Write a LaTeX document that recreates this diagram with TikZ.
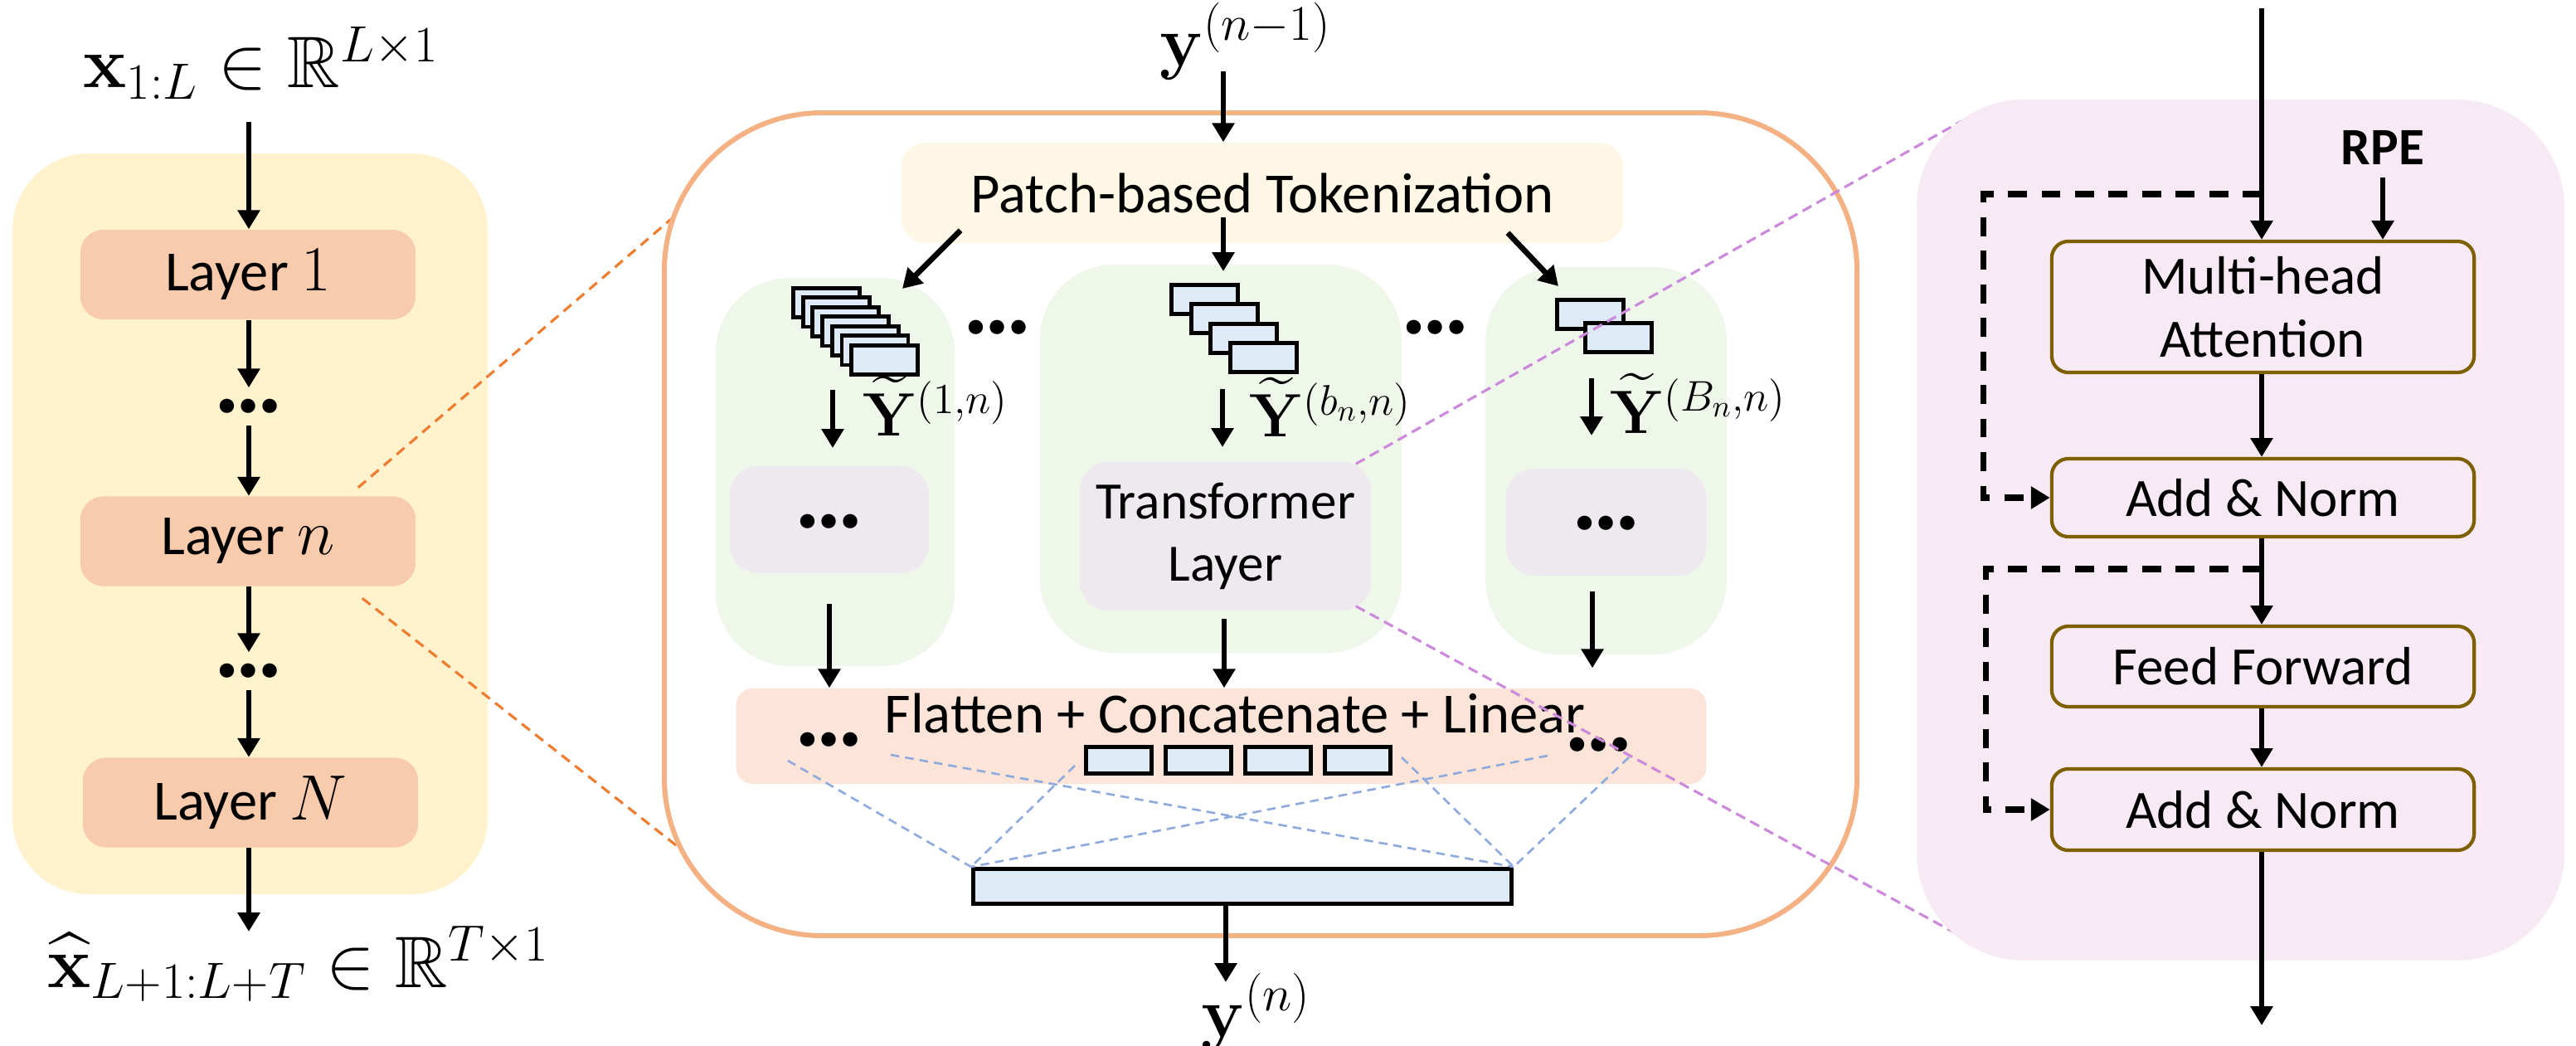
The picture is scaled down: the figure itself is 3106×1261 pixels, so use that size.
\RequirePackage{fix-cm}
\documentclass[tikz,border=0pt]{standalone}
\usepackage{amsmath,amssymb}
\usepackage[no-math]{fontspec}
\setmainfont{Carlito}
\usetikzlibrary{arrows.meta,calc}
\definecolor{ybg}{HTML}{FFF2CC}
\definecolor{layerc}{HTML}{F8CBAD}
\definecolor{tokc}{HTML}{FFF7E5}
\definecolor{greenc}{HTML}{EFF6EA}
\definecolor{purpc}{HTML}{EEE8EF}
\definecolor{flatc}{HTML}{FCE5D8}
\definecolor{pblue}{HTML}{DEEAF6}
\definecolor{pinkc}{HTML}{F7EAF5}
\definecolor{brownc}{HTML}{7F6000}
\definecolor{orangep}{HTML}{F4B183}
\definecolor{oranged}{HTML}{ED7D31}
\definecolor{blued}{HTML}{8FAADC}
\definecolor{purpled}{HTML}{CC8ADB}
\newcommand\lmath[1]{{\fontsize{22}{22}\selectfont$#1$}}
\begin{document}
\begin{tikzpicture}[x=0.01cm,y=-0.01cm,
  arr/.style={line width=1.9pt,-{Triangle[length=6.5pt,width=7.4pt]}},
  skipline/.style={arr,line width=2pt,dash pattern=on 6.5pt off 5pt},
  txt/.style={font=\fontsize{19.5}{23.4}\selectfont},
  layerbox/.style={txt,fill=layerc,rounded corners=0.28cm,minimum width=4.04cm,minimum height=1.08cm,inner sep=0},
  dotn/.style={font=\bfseries\fontsize{33}{33}\selectfont,inner sep=0},
  patch/.style={draw=black,line width=1.4pt,fill=pblue,anchor=north west,minimum width=0.80cm,minimum height=0.35cm,inner sep=0},
  greencol/.style={fill=greenc,rounded corners=0.9cm,inner sep=0},
  purpbox/.style={fill=purpc,rounded corners=0.35cm,inner sep=0},
  rbox/.style={draw=brownc,line width=1.2pt,fill=pinkc,rounded corners=0.2cm,minimum width=5.09cm,inner sep=0,align=center,font=\fontsize{18.5}{21.6}\selectfont},
  mlab/.style={anchor=base west,inner sep=0,font=\fontsize{25}{25}\selectfont},
  ylab/.style={anchor=base west,inner sep=0,font=\fontsize{21}{21}\selectfont},
  bdash/.style={blued,line width=0.75pt,dash pattern=on 3pt off 2pt},
  odash/.style={oranged,line width=0.9pt,dash pattern=on 3.5pt off 2.3pt},
  pdash/.style={purpled,line width=0.9pt,dash pattern=on 3.5pt off 2pt}]
\useasboundingbox (0,0) rectangle (3106,1261);
% ---------------- left panel ----------------
\fill[ybg,rounded corners=0.92cm] (15,185) rectangle (588,1078);
\node[mlab] (title) at (100,106) {$\mathbf{x}_{1:L}\in\mathbb{R}^{L\times 1}$};
\node[layerbox] (L1) at (299,331) {Layer \lmath{1}};
\node[layerbox] (Ln) at (299,652.5) {Layer \lmath{n}};
\node[layerbox] (LN) at (302,967.5) {Layer \lmath{N}};
\node[dotn,minimum height=0.44cm] (d1) at (300,490) {…};
\node[dotn,minimum height=0.44cm] (d2) at (300,809) {…};
\node[mlab] (out) at (57,1190) {$\widehat{\mathbf{x}}_{L+1:L+T}\in\mathbb{R}^{T\times 1}$};
\coordinate (tin) at (300,147);
\coordinate (tout) at (300,1123);
\draw[arr] (tin) -- (tin |- L1.north);
\draw[arr] (d1 |- L1.south) -- (d1.north);
\draw[arr] (d1.south) -- (d1.south |- Ln.north);
\draw[arr] (d2 |- Ln.south) -- (d2.north);
\draw[arr] (d2.south) -- (d2.south |- LN.north);
\draw[arr] (tout |- LN.south) -- (tout);
% orange zoom lines
\coordinate (o1) at ($(Ln.north east)+(-70,-10)$);
\coordinate (o1e) at (835,242);
\coordinate (o2) at ($(Ln.south east)+(-65,14)$);
\coordinate (o2e) at (890,1078);
\draw[odash] (o1) -- (o1e);
\draw[odash] (o2) -- (o2e);
% ---------------- middle panel ----------------
\draw[orangep,line width=1.7pt,fill=white,rounded corners=1.9cm] (801,136) rectangle (2239,1128);
\node[inner sep=0,font=\fontsize{24.5}{24.5}\selectfont,anchor=base west] (yin) at (1398,80) {$\mathbf{y}^{(n-1)}$};
\node[txt,fill=tokc,rounded corners=0.3cm,minimum width=8.70cm,minimum height=1.21cm,inner sep=0] (tok) at (1522,232.5) {Patch-based Tokenization};
\coordinate (ytop) at (1475,86);
\draw[arr] (ytop) -- (ytop |- tok.north);
\node[greencol,minimum width=2.88cm,minimum height=4.68cm] (g1) at (1007,569) {};
\node[greencol,minimum width=4.36cm,minimum height=4.68cm] (g2) at (1472,553) {};
\node[greencol,minimum width=2.91cm,minimum height=4.67cm] (g3) at (1936.5,555.5) {};
% arrows from tokenization
\coordinate (ta1) at ($(tok.south west)+(72,-16)$);
\coordinate (tb1) at (1088,348);
\coordinate (ta2) at (1475,262);
\coordinate (tb2) at (1475,327);
\coordinate (ta3) at ($(tok.south east)+(-140,-13)$);
\coordinate (tb3) at (1879,345);
\draw[arr] (ta1) -- (tb1);
\draw[arr] (ta2) -- (tb2);
\draw[arr] (ta3) -- (tb3);
% patch stacks
\foreach \i in {0,...,6} {\node[patch] (pa\i) at ({954+11.7*\i},{345+11.5*\i}) {};}
\foreach \i in {0,...,3} {\node[patch] (pb\i) at ({1410+23.7*\i},{341+23.3*\i}) {};}
\foreach \i in {0,1} {\node[patch] (pc\i) at ({1875+34*\i},{359+28*\i}) {};}
\node[dotn] (dm1) at (1203,395) {…};
\node[dotn] (dm2) at (1731,395) {…};
% labels and arrows
\node[ylab] (lab1) at (1040,525) {$\widetilde{\mathbf{Y}}^{(1,n)}$};
\node[ylab] (lab2) at (1506,527) {$\widetilde{\mathbf{Y}}^{(b_n,n)}$};
\node[ylab] (lab3) at (1941,522) {$\widetilde{\mathbf{Y}}^{(B_n,n)}$};
\coordinate (ca1) at (1004,470); \coordinate (cb1) at (1004,540);
\coordinate (ca2) at (1474,469); \coordinate (cb2) at (1474,539);
\coordinate (ca3) at (1919,456); \coordinate (cb3) at (1919,525);
\draw[arr] (ca1) -- (cb1);
\draw[arr] (ca2) -- (cb2);
\draw[arr] (ca3) -- (cb3);
% transformer boxes
\node[purpbox,minimum width=2.40cm,minimum height=1.29cm] (pl) at (1000,626.5) {};
\node[purpbox,minimum width=3.51cm,minimum height=1.79cm,align=center,font=\fontsize{18}{21.3}\selectfont] (tl) at (1477.5,646.5) {Transformer\\Layer};
\node[purpbox,minimum width=2.41cm,minimum height=1.29cm] (pr) at (1936.5,629.5) {};
\node[dotn] (dl) at (1000,629) {…};
\node[dotn] (dr) at (1937,631) {…};
% flatten box
\node[fill=flatc,rounded corners=0.2cm,minimum width=11.69cm,minimum height=1.15cm,inner sep=0] (flat) at (1472.5,887.5) {};
\node[txt,anchor=base,inner sep=0] (ftxt) at (1489,883) {Flatten + Concatenate + Linear};
\coordinate (fa1) at (1000,728);
\coordinate (fa2) at (1476,746);
\coordinate (fa3) at (1920,713);
\draw[arr] (fa1) -- (fa1 |- flat.north);
\draw[arr] (fa2) -- (fa2 |- flat.north);
\draw[arr] (fa3) -- ($(fa3 |- flat.north)+(0,-24)$);
\node[dotn] (fd1) at (1000,892) {…};
\node[dotn] (fd2) at (1928,898) {…};
\foreach \i in {0,...,3} {\node[draw=black,line width=1.4pt,fill=pblue,minimum width=0.79cm,minimum height=0.32cm,inner sep=0] (fb\i) at ({1349+96*\i},916.5) {};}
% output bar
\node[draw=black,line width=1.4pt,fill=pblue,minimum width=6.49cm,minimum height=0.42cm,inner sep=0] (bar) at (1498,1068.5) {};
\coordinate (b1) at (950,917);
\coordinate (b2) at (1074,910);
\coordinate (b3) at (1296,923);
\coordinate (b4) at (1690,913);
\coordinate (b5) at (1866,911);
\coordinate (b6) at (1964,913);
\draw[bdash] (b1) -- (bar.north west);
\draw[bdash] (b2) -- (bar.north east);
\draw[bdash] (b3) -- (bar.north west);
\draw[bdash] (b4) -- (bar.north east);
\draw[bdash] (b5) -- (bar.north west);
\draw[bdash] (b6) -- (bar.north east);
\coordinate (yo) at (1478,1184);
\draw[arr] (yo |- bar.south) -- (yo);
\node[inner sep=0,font=\fontsize{24.5}{24.5}\selectfont,anchor=base west] (yout) at (1448,1250) {$\mathbf{y}^{(n)}$};
% purple zoom lines
\coordinate (q1) at ($(tl.north east)+(-19,3)$);
\coordinate (q1e) at (2365,146);
\coordinate (q2) at ($(tl.south east)+(-19,-6)$);
\coordinate (q2e) at (2400,1148);
\draw[pdash] (q1) -- (q1e);
\draw[pdash] (q2) -- (q2e);
% ---------------- right panel ----------------
\fill[pinkc,rounded corners=1.3cm] (2311,120) rectangle (3092,1158);
\node[inner sep=0,font=\bfseries\fontsize{18}{18}\selectfont] (rpe) at (2873,178) {RPE};
\node[rbox,minimum height=1.58cm] (mha) at (2728.5,370) {Multi-head\\Attention};
\node[rbox,minimum height=0.94cm] (an1) at (2728.5,600) {Add \& Norm};
\node[rbox,minimum height=0.97cm] (ff) at (2728.5,803.5) {Feed Forward};
\node[rbox,minimum height=0.98cm] (an2) at (2728.5,976) {Add \& Norm};
\coordinate (rtop) at (2727,10);
\coordinate (rbot) at (2727,1236);
\draw[arr] (rtop) -- (rtop |- mha.north);
\draw[arr] ($(rpe.south)+(0,15)$) -- (rpe.south |- mha.north);
\draw[arr] (mha.south -| rtop) -- (an1.north -| rtop);
\draw[arr] (an1.south -| rtop) -- (ff.north -| rtop);
\draw[arr] (ff.south -| rtop) -- (an2.north -| rtop);
\draw[arr] (an2.south -| rtop) -- (rbot);
\coordinate (s1) at (2727,234);
\coordinate (k1) at (2391,234);
\coordinate (s2) at (2727,686);
\coordinate (k2) at (2394,686);
\draw[skipline] (s1) -- (k1) |- (an1.west);
\draw[skipline] (s2) -- (k2) |- (an2.west);
\end{tikzpicture}
\end{document}
